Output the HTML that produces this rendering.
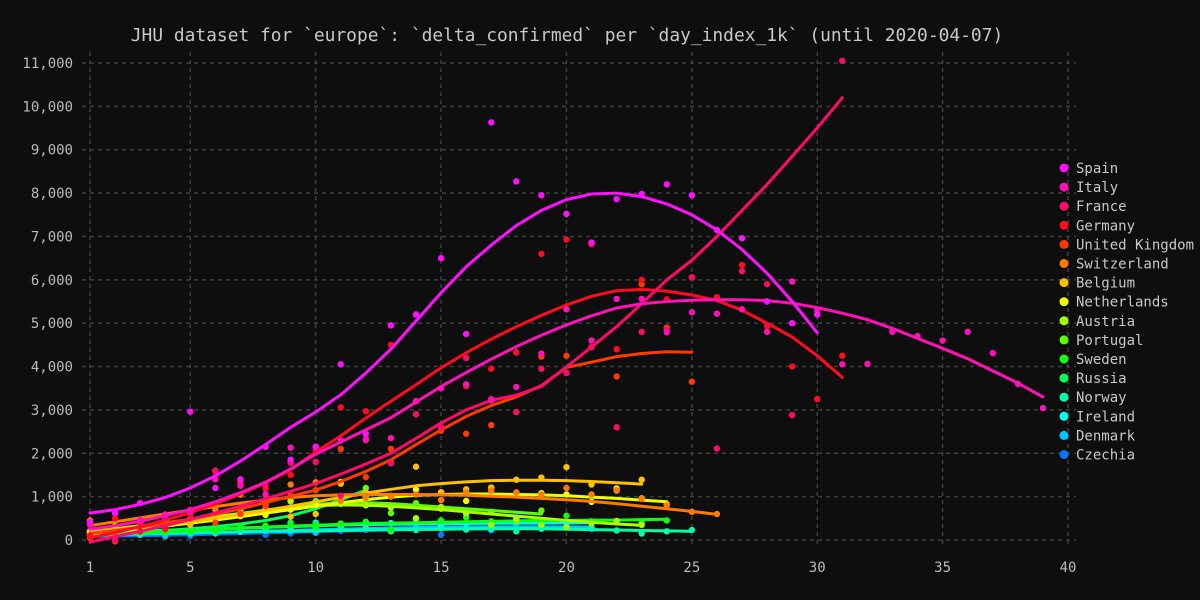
<!DOCTYPE html>
<html><head><meta charset="utf-8"><style>
html,body{margin:0;padding:0;background:#0e0e0e;}
svg{display:block;font-family:"DejaVu Sans Mono","Liberation Mono",monospace;}
</style></head><body>
<svg id="chart" width="1200" height="600" viewBox="0 0 1200 600">
<rect x="0" y="0" width="1200" height="600" fill="#0e0e0e"/>
<text x="567" y="41" text-anchor="middle" fill="#c8c8c8" font-size="17.9">JHU dataset for `europe`: `delta_confirmed` per `day_index_1k` (until 2020-04-07)</text>
<g id="grid"></g>
<g id="axes"></g>
<g id="series"></g>
<g id="legend"></g>
</svg>
<script>
const xTicks = [1,5,10,15,20,25,30,35,40];
const yTicks = [0,1000,2000,3000,4000,5000,6000,7000,8000,9000,10000,11000];
const countries = ["Spain","Italy","France","Germany","United Kingdom","Switzerland","Belgium","Netherlands","Austria","Portugal","Sweden","Russia","Norway","Ireland","Denmark","Czechia"];
const colors = ["#ff10ff","#ff10b8","#ff0a6a","#ff0a22","#ff3a00","#ff7a00","#ffc000","#eeff00","#a8ff00","#5cff00","#10ff10","#00ff58","#00ffa8","#00fff0","#00c8ff","#0078ff"];
const lineSpain = [620,700,820,980,1200,1480,1820,2200,2600,2950,3350,3850,4400,5050,5700,6300,6800,7250,7600,7850,7980,8000,7920,7750,7500,7150,6700,6150,5500,4780];
const lineItaly = [250,330,430,560,700,880,1090,1330,1640,1980,2260,2540,2820,3180,3540,3860,4170,4460,4720,4960,5170,5350,5450,5500,5530,5540,5540,5520,5460,5360,5230,5080,4880,4650,4420,4180,3900,3620,3300];
const lineFrance = [-50,80,200,330,470,620,780,950,1120,1300,1520,1750,2000,2340,2700,3000,3220,3340,3540,3990,4450,4920,5450,6000,6450,7000,7600,8200,8850,9500,10200];
const lineGermany = [50,170,310,460,630,830,1060,1320,1620,2030,2400,2810,3200,3580,3970,4320,4630,4920,5180,5420,5620,5750,5780,5740,5650,5520,5300,5000,4680,4250,3750];
const lineUK = [150,220,300,390,480,590,720,860,1010,1150,1350,1580,1850,2200,2540,2850,3100,3300,3560,3980,4100,4230,4300,4340,4330];
const lineSwitzerland = [330,420,510,600,690,770,850,920,980,1020,1040,1050,1050,1050,1040,1030,1010,990,960,930,890,840,780,720,660,590];
const lineBelgium = [200,250,300,360,420,500,590,680,780,880,980,1080,1170,1250,1300,1340,1370,1380,1380,1370,1350,1320,1290];
const lineNetherlands = [150,200,260,320,390,460,540,620,700,780,860,930,990,1030,1050,1060,1060,1050,1040,1020,990,960,920,880];
const lineAustria = [200,260,330,400,470,540,610,680,740,790,810,800,780,740,700,650,600,550,500,450,410,370,340];
const linePortugal = [200,250,310,380,450,530,610,690,760,820,860,860,840,800,760,720,680,640,600];
const lineSweden = [100,130,160,190,220,250,280,300,320,340,360,380,390,400,410,420,430,440,450,450,460,460,470,480];
const lineRussia = [120,150,180,220,260,310,370,450,560,720,930,1150];
const lineNorway = [130,140,150,160,170,180,190,200,205,210,220,230,240,245,250,255,258,260,258,250,240,230,220,210,200];
const lineIreland = [180,195,210,225,240,255,270,290,310,330,345,355,365,370,375,380,385,390,390,395,400];
const lineDenmark = [100,115,130,145,160,175,190,205,220,235,250,262,274,285,295,300,302,303,303,302,300];
const lineCzechia = [80,90,100,110,120,135,150,165,180,195,210,220,230,240,250,255,260,265,270,275,280];
const scSpain = [420,620,850,null,2960,1200,1400,2150,1850,2150,4050,2450,4950,5200,6500,4750,9630,8270,7950,7520,6860,7860,7980,8200,7950,7150,6960,5500,5000,5200];
const scItaly = [350,650,460,590,650,1400,1250,1050,2130,2150,2300,2330,2350,3200,3500,3590,3220,3530,4300,5320,4600,5560,5560,4790,5250,5220,5320,4800,5960,5300,4050,4060,4800,4700,4600,4800,4310,3600,3040];
const scFrance = [380,0,400,500,700,1600,1300,1250,1780,1800,1020,2300,1770,2900,2600,4200,3250,2950,3950,3850,4450,2600,4800,4850,6060,2110,6200,5900,2880,5200,11050];
const scGermany = [100,500,200,250,600,1580,1350,1180,1500,2060,3060,2970,4500,3200,2600,3550,3950,4320,6600,6930,6820,4400,6000,5550,6050,5600,6340,4930,4000,3250,4250];
const scUK = [50,-30,200,300,500,400,600,780,1030,1150,2100,1450,2100,2900,2520,2450,2650,4330,4230,4250,4450,3770,5900,4900,3650];
const scSwitzerland = [450,100,350,380,620,700,1050,820,1280,1330,900,970,1000,1050,920,1100,1140,1100,1050,1200,1050,1150,950,800,650,600];
const scBelgium = [150,180,300,400,350,600,620,900,540,600,1300,1100,1780,1690,1100,1170,1200,1390,1440,1680,1280,1140,1390];
const scNetherlands = [200,270,300,350,440,560,550,580,700,820,1000,1000,1020,1160,1100,900,1210,1030,1080,1050,880,1190,960,820];
const scAustria = [180,320,200,300,460,560,700,730,890,800,1340,800,750,500,760,620,350,480,350,300,380,440,350];
const scPortugal = [150,300,280,250,400,550,580,700,900,900,850,1200,620,850,720,600,650,430,680];
const scSweden = [80,150,250,200,180,200,300,320,350,300,380,420,240,500,450,520,430,520,430,560,400,410,400,450];
const scRussia = [100,130,170,160,210,290,270,330,400,380,830,1000];
const scNorway = [120,180,120,200,150,180,240,220,230,280,300,270,200,230,270,240,250,200,260,300,290,220,150,200,230];
const scIreland = [200,170,140,220,230,170,200,260,250,400,330,370,390,410,360,390,420,440,350,400,430];
const scDenmark = [60,130,150,90,230,150,190,260,200,170,250,290,230,280,300,270,290,310,320,300,270];
const scCzechia = [110,60,120,150,90,200,320,120,150,170,210,230,250,300,120,260,220,350,280,310,250];

const lines = [lineSpain,lineItaly,lineFrance,lineGermany,lineUK,lineSwitzerland,lineBelgium,lineNetherlands,lineAustria,linePortugal,lineSweden,lineRussia,lineNorway,lineIreland,lineDenmark,lineCzechia];
const scatters = [scSpain,scItaly,scFrance,scGermany,scUK,scSwitzerland,scBelgium,scNetherlands,scAustria,scPortugal,scSweden,scRussia,scNorway,scIreland,scDenmark,scCzechia];

const NS = "http://www.w3.org/2000/svg";
const X0 = 90, X1 = 1068, Y0 = 540, Y1 = 63;
function xs(d){ return X0 + (d - 1) / 39 * (X1 - X0); }
function ys(v){ return Y0 - v / 11000 * (Y0 - Y1); }
function mk(tag, attrs, parent){ const e = document.createElementNS(NS, tag); for (const k in attrs) e.setAttribute(k, attrs[k]); parent.appendChild(e); return e; }

const grid = document.getElementById('grid');
const axes = document.getElementById('axes');
xTicks.forEach(t => {
  const l = mk('line', {x1: xs(t), x2: xs(t), y1: 52, y2: 548, stroke: '#3e3e3e', 'stroke-width': 1.5, 'stroke-dasharray': '4 4'}, grid);
  
  
  const tx = mk('text', {x: xs(t), y: 572, 'text-anchor': 'middle', fill: '#bbb', 'font-size': 14}, axes);
  tx.textContent = t;
  
  
});
yTicks.forEach(t => {
  const l = mk('line', {x1: 82, x2: 1076, y1: ys(t), y2: ys(t), stroke: '#3e3e3e', 'stroke-width': 1.5, 'stroke-dasharray': '4 4'}, grid);
  
  
  const tx = mk('text', {x: 73, y: ys(t) + 5, 'text-anchor': 'end', fill: '#bbb', 'font-size': 14}, axes);
  tx.textContent = t.toLocaleString('en-US');
  
  
});

const series = document.getElementById('series');
for (let i = countries.length - 1; i >= 0; i--) {
  const g = mk('g', {}, series);
  
  
  scatters[i].forEach((v, j) => {
    if (v === null) return;
    const c = mk('circle', {cx: xs(j + 1), cy: ys(v), r: 3.2, fill: colors[i]}, g);
    
    
  });
  const pts = lines[i].map((v, j) => xs(j + 1).toFixed(1) + ',' + ys(v).toFixed(1)).join(' ');
  const p = mk('polyline', {points: pts, fill: 'none', stroke: colors[i], 'stroke-width': 3, 'stroke-linejoin': 'round', 'stroke-linecap': 'round'}, g);
  
  
}

const legend = document.getElementById('legend');
countries.forEach((c, i) => {
  const y = 168 + i * 19.1;
  const d = mk('circle', {cx: 1064, cy: y, r: 4.5, fill: colors[i]}, legend);
  
  
  const t = mk('text', {x: 1076, y: y + 5, fill: '#c8c8c8', 'font-size': 14}, legend);
  t.textContent = c;
  
  
});
</script>
</body></html>
